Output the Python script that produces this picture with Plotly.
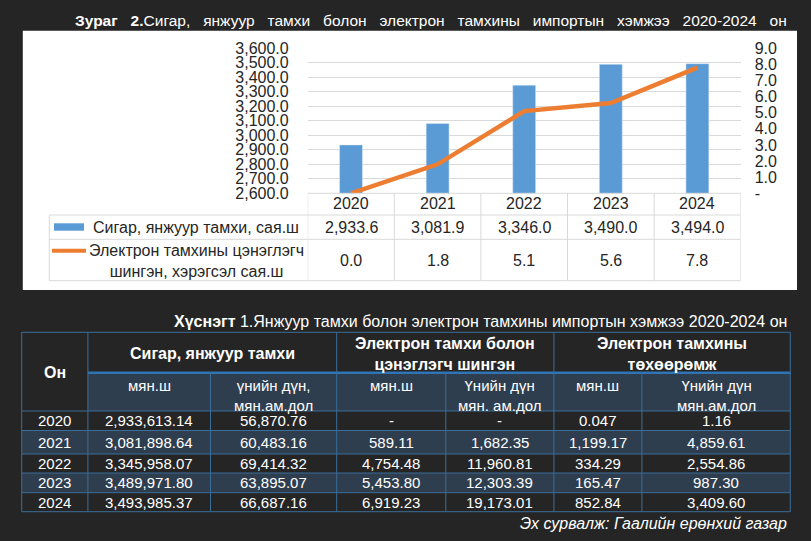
import plotly.graph_objects as go

W, H = 811, 541

# chart data
years = ["2020", "2021", "2022", "2023", "2024"]
cig_mn = [2933.6, 3081.9, 3346.0, 3490.0, 3494.0]
liquid_mn = [0.0, 1.8, 5.1, 5.6, 7.8]
right_ticks = [0, 1, 2, 3, 4, 5, 6, 7, 8, 9]

# table data
cig_qty = [2933613.14, 3081898.64, 3345958.07, 3489971.80, 3493985.37]
cig_val = [56870.76, 60483.16, 69414.32, 63895.07, 66687.16]
liq_qty = [None, 589.11, 4754.48, 5453.80, 6919.23]
liq_val = [None, 1682.35, 11960.81, 12303.39, 19173.01]
dev_qty = [0.047, 1199.17, 334.29, 165.47, 852.84]
dev_val = [1.16, 4859.61, 2554.86, 987.30, 3409.60]

BG = "#252525"
SLATE = "#2f3e4f"
BORDER = "#3a6d98"
GRID = "#d9d9d9"
DARK = "#262626"
FONT = "Liberation Sans, Arial, sans-serif"


def X(p):
    return p / W


def Y(p):
    return 1 - p / H


def fmt(v):
    if v is None:
        return "-"
    if abs(v) < 1:
        return f"{v:.3f}"
    return f"{v:,.2f}"


fig = go.Figure()

fig.add_trace(go.Bar(
    x=years, y=cig_mn, marker=dict(color="#5b9bd5"),
    name="Сигар, янжуур тамхи, сая.ш", hoverinfo="skip"
))
fig.add_trace(go.Scatter(
    x=years, y=liquid_mn, yaxis="y2", mode="lines",
    line=dict(color="#ed7d31", width=4.5),
    name="Электрон тамхины цэнэглэгч шингэн, хэрэгсэл сая.ш", hoverinfo="skip"
))

shapes = []
ann = []

# white panel of the chart
shapes.append(dict(type="rect", xref="paper", yref="paper", layer="below",
                   x0=X(22.8), x1=X(797), y0=Y(290), y1=Y(30.7),
                   fillcolor="white", line=dict(width=0)))


def pline(x0, y0, x1, y1, color, width=1, xref="paper"):
    shapes.append(dict(type="line", xref=xref, yref="paper",
                       x0=x0, x1=x1, y0=Y(y0), y1=Y(y1),
                       line=dict(color=color, width=width)))


# chart data table
n = len(years)
tbl_top, r1, r2, tbl_bot = 193.3, 215, 239.3, 280.7
pline(-0.5, tbl_top, n - 0.5, tbl_top, GRID, xref="x")
for yy in (r1, r2, tbl_bot):
    pline(X(49.3), yy, X(307.7), yy, GRID)
    pline(-0.5, yy, n - 0.5, yy, GRID, xref="x")
pline(X(49.3), r1, X(49.3), tbl_bot, GRID)
for i in range(n + 1):
    pline(i - 0.5, tbl_top, i - 0.5, tbl_bot, GRID, xref="x")

# legend keys inside the data table
shapes.append(dict(type="rect", xref="paper", yref="paper",
                   x0=X(54), x1=X(84), y0=Y(230.7), y1=Y(223.3),
                   fillcolor="#5b9bd5", line=dict(width=0)))
pline(X(52), 250.7, X(86), 250.7, "#ed7d31", width=4)

ann.append(dict(text="Сигар, янжуур тамхи, сая.ш", x=X(195.5), y=Y(227.7),
                xanchor="center", yanchor="middle",
                font=dict(size=16, color=DARK)))
ann.append(dict(text="Электрон тамхины цэнэглэгч<br>шингэн, хэрэгсэл сая.ш",
                x=X(196), y=Y(260.5), xanchor="center", yanchor="middle",
                font=dict(size=16, color=DARK)))
for i, yr in enumerate(years):
    ann.append(dict(text=yr, xref="x", x=i, y=Y(203.8),
                    xanchor="center", yanchor="middle",
                    font=dict(size=16, color=DARK)))
    ann.append(dict(text=f"{cig_mn[i]:,.1f}", xref="x", x=i, y=Y(227.7),
                    xanchor="center", yanchor="middle",
                    font=dict(size=16, color=DARK)))
    ann.append(dict(text=f"{liquid_mn[i]:.1f}", xref="x", x=i, y=Y(260),
                    xanchor="center", yanchor="middle",
                    font=dict(size=16, color=DARK)))

# titles (justified look: widened word gaps)
gap = "\u00a0" * 3
t1_bold = gap.join(["Зураг", "2."])
t1_rest = gap.join("Сигар, янжуур тамхи болон электрон тамхины импортын хэмжээ 2020-2024 он".split(" "))
ann.append(dict(text=f"<b>{t1_bold}</b>{t1_rest}",
                x=X(789), y=Y(20.5), xanchor="right", yanchor="middle",
                font=dict(size=15.5, color="white")))
ann.append(dict(text="<b>Хүснэгт</b> 1.Янжуур тамхи болон электрон тамхины импортын хэмжээ 2020-2024 он",
                x=X(789), y=Y(321.7), xanchor="right", yanchor="middle",
                font=dict(size=16, color="white")))
ann.append(dict(text="<i>Эх сурвалж: Гаалийн ерөнхий газар</i>",
                x=X(789), y=Y(523), xanchor="right", yanchor="middle",
                font=dict(size=16, color="white")))

# lower table
col_x = [21.7, 87.9, 210.5, 336.7, 445.8, 553.9, 641.9, 790.3]
row_y = [332.3, 372.7, 411, 430.5, 454, 473, 492.7, 511.7]

shapes.append(dict(type="rect", xref="paper", yref="paper",
                   x0=X(col_x[1]), x1=X(col_x[-1]), y0=Y(row_y[2]), y1=Y(row_y[1]),
                   fillcolor=SLATE, line=dict(width=0)))
for r in range(len(years)):
    if r % 2 == 1:
        shapes.append(dict(type="rect", xref="paper", yref="paper",
                           x0=X(col_x[0]), x1=X(col_x[-1]),
                           y0=Y(row_y[r + 3]), y1=Y(row_y[r + 2]),
                           fillcolor=SLATE, line=dict(width=0)))

pline(X(col_x[1]), row_y[1], X(col_x[-1]), row_y[1], "#2f75b5", width=2.5)
for yy in [row_y[0]] + row_y[2:]:
    pline(X(col_x[0]), yy, X(col_x[-1]), yy, BORDER)
for j, xx in enumerate(col_x):
    top = row_y[1] if j in (2, 4, 6) else row_y[0]
    pline(X(xx), top, X(xx), row_y[-1], BORDER)

ann.append(dict(text="<b>Он</b>", x=X((col_x[0] + col_x[1]) / 2), y=Y(372.7),
                xanchor="center", yanchor="middle",
                font=dict(size=16, color="white")))
groups = ["<b>Сигар, янжуур тамхи</b>",
          "<b>Электрон тамхи болон<br>цэнэглэгч шингэн</b>",
          "<b>Электрон тамхины<br>төхөөрөмж</b>"]
for g, text in enumerate(groups):
    xc = (col_x[1 + 2 * g] + col_x[3 + 2 * g]) / 2
    ann.append(dict(text=text, x=X(xc), y=Y(353.5), xanchor="center", yanchor="middle",
                    font=dict(size=16, color="white")))
subs = ["мян.ш", "үнийн дүн,<br>мян.ам.дол", "мян.ш", "Үнийн дүн<br>мян. ам.дол",
        "мян.ш", "Үнийн дүн<br>мян.ам.дол"]
for j, text in enumerate(subs):
    xc = (col_x[1 + j] + col_x[2 + j]) / 2
    ann.append(dict(text=text, x=X(xc), y=Y(375), xanchor="center", yanchor="top",
                    font=dict(size=15, color="white")))

cols = [cig_qty, cig_val, liq_qty, liq_val, dev_qty, dev_val]
for r, yr in enumerate(years):
    yc = (row_y[r + 2] + row_y[r + 3]) / 2
    ann.append(dict(text=yr, x=X((col_x[0] + col_x[1]) / 2), y=Y(yc),
                    xanchor="center", yanchor="middle",
                    font=dict(size=15, color="white")))
    for j, c in enumerate(cols):
        xc = (col_x[1 + j] + col_x[2 + j]) / 2
        ann.append(dict(text=fmt(c[r]), x=X(xc), y=Y(yc),
                        xanchor="center", yanchor="middle",
                        font=dict(size=15, color="white")))

for a in ann:
    a.setdefault("xref", "paper")
    a.setdefault("yref", "paper")
    a["showarrow"] = False

fig.update_layout(
    width=W, height=H,
    margin=dict(l=0, r=0, t=0, b=0, pad=0),
    paper_bgcolor=BG,
    plot_bgcolor="rgba(0,0,0,0)",
    showlegend=False,
    bargap=0.735,
    font=dict(family=FONT, size=16, color=DARK),
    xaxis=dict(domain=[X(307.7), X(740.7)], type="category", automargin=False,
               range=[-0.5, n - 0.5], showgrid=False, showline=False,
               ticks="", showticklabels=False),
    yaxis=dict(domain=[Y(193.3), Y(48.3)], range=[2600, 3600], dtick=100,
               automargin=False,
               tickformat=",.1f", showgrid=True, gridcolor=GRID, zeroline=False,
               showline=False, ticks="", ticklabelstandoff=18,
               tickfont=dict(size=16, color=DARK)),
    yaxis2=dict(overlaying="y", side="right", range=[0, 9], automargin=False,
                tickvals=right_ticks,
                ticktext=["-" if v == 0 else f"{v:.1f}" for v in right_ticks],
                showgrid=False, zeroline=False, showline=False, ticks="",
                ticklabelstandoff=13, tickfont=dict(size=16, color=DARK)),
    shapes=shapes,
    annotations=ann,
)

fig.write_html("out.html", config={"displayModeBar": False},
               post_script="document.body.style.margin='0';")
